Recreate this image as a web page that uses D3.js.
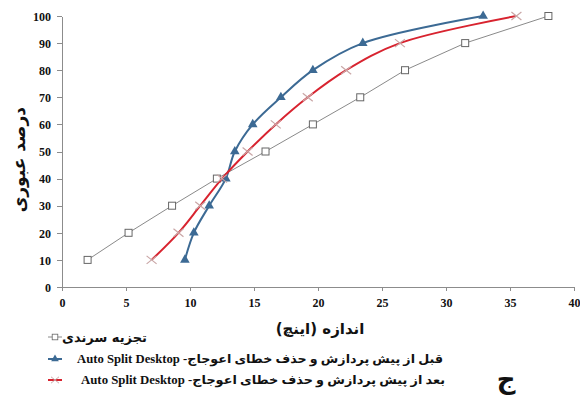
<!DOCTYPE html>
<html lang="fa">
<head>
<meta charset="UTF-8">
<title>Grading curves</title>
<script src="https://cdnjs.cloudflare.com/ajax/libs/d3/7.8.5/d3.min.js"></script>
<style>
  body { margin: 0; background: #fff; }
  .axis text { font-family: "Liberation Serif", serif; font-weight: bold; font-size: 12px; fill: #111; }
  .axis path, .axis line { stroke: #8c8c8c; fill: none; shape-rendering: crispEdges; }
  .fa { font-family: "DejaVu Sans", sans-serif; font-weight: bold; fill: #111; }
</style>
</head>
<body>
<script>
// passing percentage (y) shared by all series
var percent = [10, 20, 30, 40, 50, 60, 70, 80, 90, 100];
// size in inches
var sieve = [2.0, 5.2, 8.6, 12.1, 15.9, 19.6, 23.3, 26.8, 31.5, 38.0];
var beforeFix = [9.6, 10.3, 11.5, 12.8, 13.5, 14.9, 17.1, 19.6, 23.5, 32.9];
var afterFix = [7.0, 9.1, 10.8, 12.5, 14.5, 16.7, 19.2, 22.2, 26.4, 35.5];

var xTicks = [0, 5, 10, 15, 20, 25, 30, 35, 40];
var yTicks = [0, 10, 20, 30, 40, 50, 60, 70, 80, 90, 100];

var legendLabels = [
  "تجزیه سرندی",
  "قبل از پیش پردازش و حذف خطای اعوجاج- Auto Split Desktop",
  "بعد از پیش پردازش و حذف خطای اعوجاج- Auto Split Desktop"
];

var W = 580, H = 397;
var svg = d3.select("body").append("svg").attr("width", W).attr("height", H);

var x = d3.scaleLinear().domain([0, 40]).range([62, 574]);
var y = d3.scaleLinear().domain([0, 100]).range([287, 16]);

// axes
svg.append("g").attr("class", "axis")
  .attr("transform", "translate(0," + y(0) + ")")
  .call(d3.axisBottom(x).tickValues(xTicks).tickSize(4).tickSizeOuter(0))
  .selectAll("text").attr("dy", "1.1em");

svg.append("g").attr("class", "axis")
  .attr("transform", "translate(" + x(0) + ",0)")
  .call(d3.axisLeft(y).tickValues(yTicks).tickSize(5).tickSizeOuter(0).tickPadding(6))
  .selectAll("text").attr("dy", "0.35em");

// axis titles
svg.append("text").attr("class", "fa")
  .attr("transform", "translate(19," + y(47) + ") rotate(-90)")
  .attr("text-anchor", "middle").attr("dy", "0.35em")
  .style("font-size", "17px")
  .text("درصد عبوری");

svg.append("text").attr("class", "fa")
  .attr("x", 320).attr("y", 334)
  .attr("text-anchor", "middle")
  .style("font-size", "15px")
  .text("اندازه (اینچ)");

var series = [
  { name: "sieve", xs: sieve, color: "#8a8a8a", width: 1, curve: d3.curveLinear, marker: "square" },
  { name: "before", xs: beforeFix, color: "#3c6a94", width: 2, curve: d3.curveCatmullRom.alpha(0.5), marker: "triangle" },
  { name: "after", xs: afterFix, color: "#d8232f", width: 2, curve: d3.curveCatmullRom.alpha(0.5), marker: "cross" }
];

function drawMarker(g, type, color) {
  if (type === "square") {
    g.append("rect").attr("x", -3.5).attr("y", -3.5).attr("width", 7).attr("height", 7)
      .attr("fill", "#fff").attr("stroke", "#666").attr("stroke-width", 1);
  } else if (type === "triangle") {
    g.append("path").attr("d", d3.symbol(d3.symbolTriangle, 40)())
      .attr("fill", color);
  } else {
    g.append("path").attr("d", "M-5,-4L5,4M-5,4L5,-4")
      .attr("stroke", "#c9a6a6").attr("stroke-width", 1.2).attr("fill", "none");
  }
}

series.forEach(function(s) {
  var pts = s.xs.map(function(v, i) { return [v, percent[i]]; });
  var line = d3.line().x(function(d) { return x(d[0]); }).y(function(d) { return y(d[1]); }).curve(s.curve);
  svg.append("path").datum(pts)
    .attr("d", line).attr("fill", "none")
    .attr("stroke", s.color).attr("stroke-width", s.width);
  svg.selectAll(".m-" + s.name).data(pts).enter().append("g")
    .attr("class", "m-" + s.name)
    .attr("transform", function(d) { return "translate(" + x(d[0]) + "," + y(d[1]) + ")"; })
    .each(function() { drawMarker(d3.select(this), s.marker, s.color); });
});

// legend
var legY = [337, 359, 380];
var legRight = [147, 443, 445];
var legLeft = [62, 77, 81];
series.forEach(function(s, i) {
  var g = svg.append("g");
  var mx0 = 48, mx1 = 62;
  g.append("line").attr("x1", mx0).attr("x2", mx1).attr("y1", legY[i]).attr("y2", legY[i])
    .attr("stroke", s.color).attr("stroke-width", s.width);
  var m = g.append("g").attr("transform", "translate(" + ((mx0 + mx1) / 2) + "," + legY[i] + ") scale(0.8)");
  drawMarker(m, s.marker, s.color);
  g.append("text").attr("class", "fa")
    .attr("x", legRight[i]).attr("y", legY[i]).attr("dy", "0.35em")
    .attr("direction", "rtl").attr("text-anchor", "start")
    .attr("textLength", legRight[i] - legLeft[i]).attr("lengthAdjust", "spacingAndGlyphs")
    .style("font-size", i === 0 ? "13px" : "12px")
    .style("font-family", i === 0 ? "'DejaVu Sans'" : "'Liberation Serif', 'DejaVu Sans'")
    .text(legendLabels[i]);
});

svg.append("text").attr("class", "fa")
  .attr("x", 506).attr("y", 388).attr("text-anchor", "middle")
  .style("font-size", "26px")
  .text("ج");
</script>
</body>
</html>
